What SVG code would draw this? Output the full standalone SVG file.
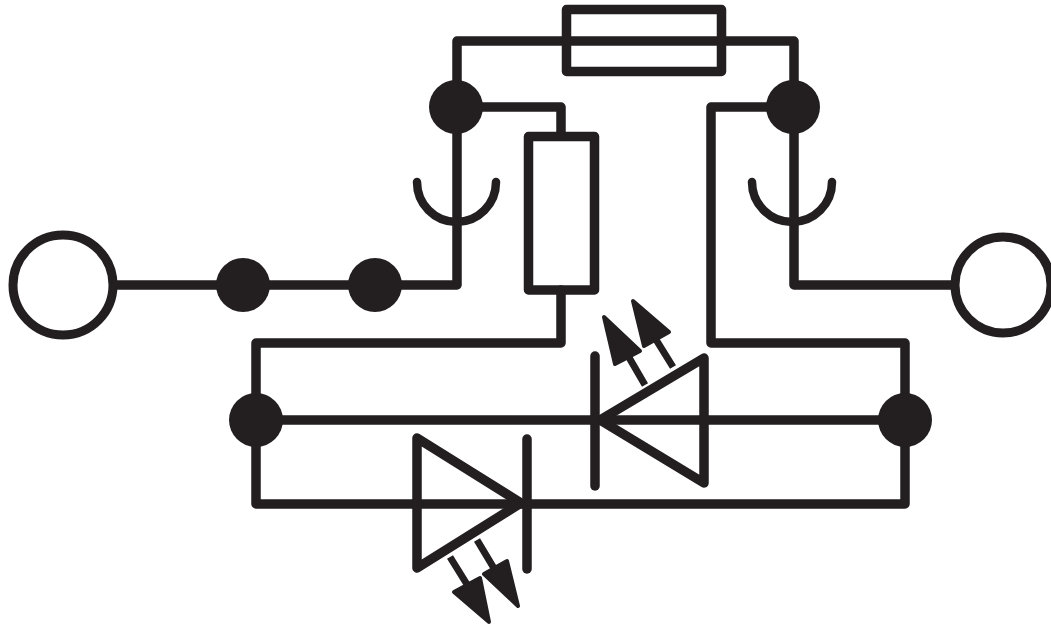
<svg xmlns="http://www.w3.org/2000/svg" width="1051" height="628" viewBox="0 0 1051 628">
<style>
.w{fill:none;stroke:#231f20;stroke-width:9.5;stroke-linejoin:round;stroke-linecap:round}
.s{fill:none;stroke:#231f20;stroke-width:7;stroke-linecap:butt}
.b{fill:none;stroke:#231f20;stroke-width:9.5;stroke-linejoin:round}
.o{fill:#fff;stroke:#231f20;stroke-width:9}
.d{fill:#231f20}
.c{fill:none;stroke:#231f20;stroke-width:8.5;stroke-linecap:round}
.h{fill:#231f20;stroke:#231f20;stroke-width:4;stroke-linejoin:round}
</style>
<rect width="1051" height="628" fill="#fff"/>
<g id="connectors">
<path class="w" d="M114 285H457V41H794V285H955"/>
<path class="w" d="M456 107H561V136"/>
<path class="w" d="M561 290V343H256V504H905V343H711V107H794"/>
<path class="w" d="M256 420H905"/>
<path class="s" d="M450 557L468 586M477 540L495 570"/>
<path class="s" d="M645 385L627 354M673 367L655 338"/>
</g>
<g id="terminal-left"><circle class="o" cx="63" cy="285" r="50"/></g>
<g id="terminal-right"><circle class="o" cx="1003" cy="285" r="48"/></g>
<g id="fuse"><rect class="b" x="566.5" y="9.5" width="155" height="62"/></g>
<g id="resistor"><rect class="b" x="528.5" y="136.5" width="66" height="153.5"/></g>
<g id="j1"><circle class="d" cx="243" cy="285" r="27"/></g>
<g id="j2"><circle class="d" cx="375" cy="285" r="27"/></g>
<g id="j3"><circle class="d" cx="456" cy="107" r="27"/></g>
<g id="j4"><circle class="d" cx="793" cy="107" r="27"/></g>
<g id="j5"><circle class="d" cx="256" cy="420" r="27"/></g>
<g id="j6"><circle class="d" cx="905" cy="420" r="27"/></g>
<g id="contact-left"><path class="c" d="M417 182A39.5 40 0 0 0 496 182"/></g>
<g id="contact-right"><path class="c" d="M752 182A40 40 0 0 0 832 182"/></g>
<g id="led-lower">
<path class="w" d="M417 438L521 503L417 568Z"/>
<path class="w" d="M527 439V569"/>
<path class="h" d="M454 592L480 578L489 622Z"/>
<path class="h" d="M484 574L507 561L518 606Z"/>
</g>
<g id="led-upper">
<path class="w" d="M704 358L600 420L704 483Z"/>
<path class="w" d="M595 356V486"/>
<path class="h" d="M615 364L640 351L604 317Z"/>
<path class="h" d="M644 346L669 332L633 301Z"/>
</g>
</svg>
